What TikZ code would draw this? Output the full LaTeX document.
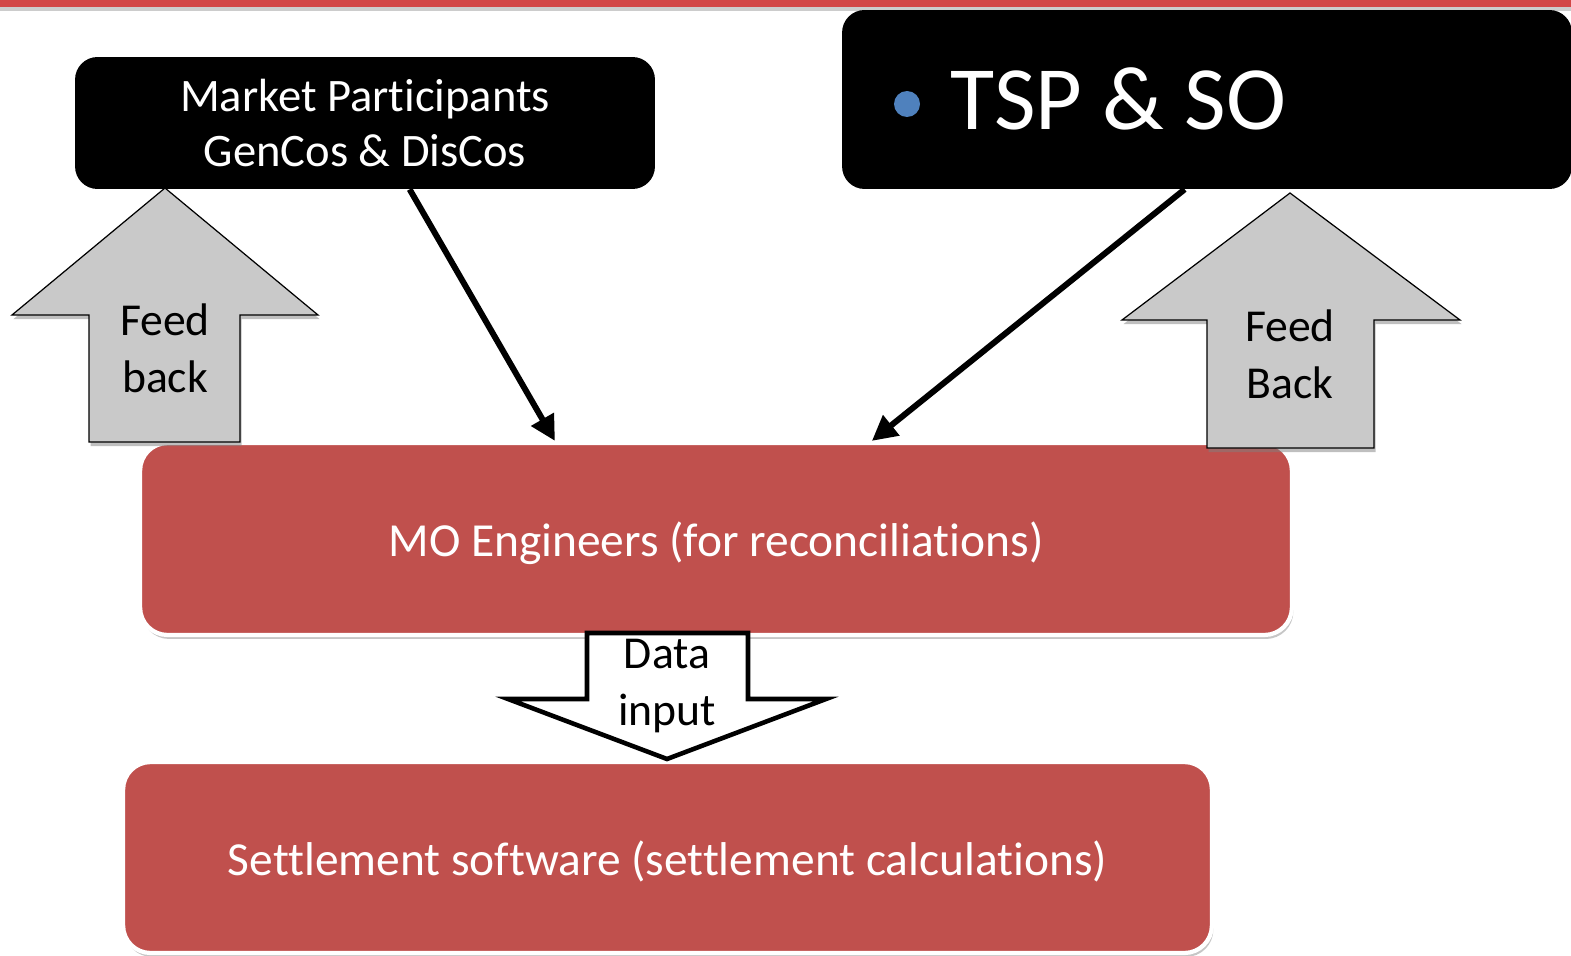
\documentclass[tikz,border=0pt]{standalone}
\usepackage{fontspec}
\setmainfont[Ligatures=NoCommon]{Carlito}
\usetikzlibrary{shadows,arrows.meta}

\definecolor{moRed}{HTML}{C0504D}
\definecolor{barRed}{HTML}{D24646}
\definecolor{bulletBlue}{HTML}{4F81BD}
\definecolor{arrowGray}{HTML}{C9C9C9}

\tikzset{
  darkbox/.style={fill=black, text=white, rounded corners=0.45cm, align=center, inner sep=0pt},
  redbox/.style={fill=moRed, draw=white, line width=2.4pt, text=white, rounded corners=0.55cm,
    font=\fontsize{27}{32}\selectfont,
    drop shadow={shadow xshift=0.03cm, shadow yshift=-0.08cm, opacity=0.45}},
  feedarrow/.style={fill=arrowGray, draw=black, line width=0.7pt, line join=miter,
    drop shadow={shadow xshift=0.03cm, shadow yshift=-0.08cm, opacity=0.5}},
  inarrow/.style={fill=white, draw=black, line width=2.6pt, line join=miter},
  arrowtext/.style={align=center, inner sep=0pt, font=\fontsize{26}{32.5}\selectfont},
  link/.style={line width=3.4pt, -{Triangle[length=0.5cm, width=0.5cm]}}
}

\begin{document}
\begin{tikzpicture}[x=0.02cm, y=-0.02cm]
  \useasboundingbox (0,0) rectangle (1571,956);

  % title bar
  \fill[barRed, drop shadow={shadow xshift=0cm, shadow yshift=-0.08cm, opacity=0.4}] (0,-5) rectangle (1571,7);

  % sources
  \node[darkbox, minimum width=11.6cm, minimum height=2.64cm,
        font=\fontsize{26.5}{31.75}\selectfont] (mp) at (365,123)
        {Market Participants\\GenCos \& DisCos};
  \node[darkbox, minimum width=14.6cm, minimum height=3.58cm] (tsp) at (1207,99.5) {};
  \node[circle, fill=bulletBlue, minimum size=0.52cm, inner sep=0pt] (bullet) at (907,104) {};
  \node[anchor=base west, text=white, inner sep=0pt,
        font=\fontsize{51.5}{60}\selectfont] (tsptext) at (950,130) {TSP \& SO};

  % processing
  \node[redbox, minimum width=23.04cm, minimum height=3.84cm] (mo) at (716,539)
        {\raisebox{-2.2pt}[\height][\depth]{MO Engineers (for reconciliations)}};
  \node[redbox, minimum width=21.78cm, minimum height=3.82cm] (settle) at (667.5,857.5)
        {\raisebox{-2.2pt}[\height][\depth]{Settlement software (settlement calculations)}};

  % feed back arrows
  \filldraw[feedarrow] (165,188) -- (318,315) -- (240,315) -- (240,442) -- (89,442)
        -- (89,315) -- (12,315) -- cycle;
  \node[arrowtext] (fbleft) at (165,348) {Feed\\back};
  \filldraw[feedarrow] (1290,193) -- (1460,320) -- (1374,320) -- (1374,448) -- (1207,448)
        -- (1207,320) -- (1122,320) -- cycle;
  \node[arrowtext] (fbright) at (1290,354) {Feed\\Back};

  % data input arrow
  \filldraw[inarrow] (587,633) -- (748,633) -- (748,699) -- (826,699) -- (667,759)
        -- (508,699) -- (587,699) -- cycle;
  \node[arrowtext] (datain) at (667,686) {Data\\input};

  % links to MO
  \draw[link] ([xshift=6.7cm]mp.south west) -- ([xshift=8.34cm]mo.north west);
  \draw[link] ([xshift=6.86cm]tsp.south west) -- ([xshift=14.68cm]mo.north west);
\end{tikzpicture}
\end{document}
